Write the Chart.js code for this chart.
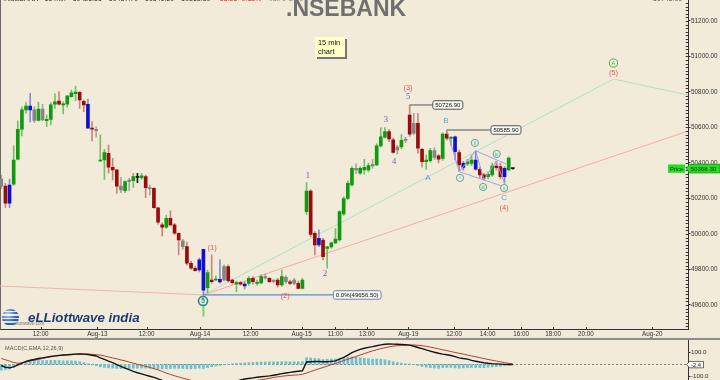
<!DOCTYPE html>
<html><head><meta charset="utf-8">
<script src="https://cdn.jsdelivr.net/npm/chart.js"></script>
<style>
html,body{margin:0;padding:0;background:#f3ebd9;}
#wrap{position:relative;width:720px;height:380px;overflow:hidden;background:#f3ebd9;font-family:"Liberation Sans",Arial,sans-serif;}
#main{position:absolute;left:0;top:0;}
#sep{position:absolute;left:0;top:338px;width:720px;height:2px;background:#8c8c8c;}
#macd{position:absolute;left:0;top:340px;}
#hdr{position:absolute;left:3px;top:-5px;font-size:7px;color:#333;white-space:nowrap;}
#hdr span{margin-right:7px;}
#hdr2{position:absolute;left:653px;top:-5px;font-size:7px;color:#555;}
#title{position:absolute;left:286px;top:-2.8px;font-weight:bold;font-size:23px;line-height:23px;color:#707070;}
#note{position:absolute;left:315px;top:37px;width:27px;height:18px;padding:2px 0 0 3px;background:#ffffc6;box-shadow:2px 2px 0 #777;font-size:7.4px;line-height:8.6px;color:#111;}
#globe{position:absolute;left:2px;top:309px;width:17px;height:17px;border-radius:50%;
 background:radial-gradient(circle at 35% 30%,rgba(255,255,255,0.7),rgba(255,255,255,0) 55%),repeating-linear-gradient(180deg,#2b5ea8 0 2px,#dbe6f3 2px 3.4px);}
#logo{position:absolute;left:28px;top:310px;font-style:italic;font-weight:bold;font-size:13.3px;color:#1d3c78;white-space:nowrap;}
#logosub{position:absolute;left:13px;top:321px;font-size:4.6px;color:#777;}
</style></head>
<body><div id="wrap">
<canvas id="main" width="720" height="338"></canvas>
<div id="sep"></div>
<canvas id="macd" width="720" height="40"></canvas>
<div id="hdr"><span>.NSEBANK - 15 min</span><span>50426.55</span><span>50437.70</span><span>50341.20</span><span>50368.30</span><span style="color:#e02020">-58.25 -0.12%</span><span style="color:#777">Vol: 0 OI: 0</span></div>
<div id="hdr2">50748.00</div>
<div id="title">.NSEBANK</div>
<div id="note">15 min<br>chart</div>
<div id="globe"></div>
<div id="logosub">elliottwave.com</div>
<div id="logo">eLLiottwave india</div>
</div>
<script>
// ---------- DATA ----------
const firstSlot = 1; // 15-min slot index of first candle (Aug-12 09:30)
const openP = [
 50310,50270,50173,50280,50421,50591,50699,50721,50699,50640,50704,50638,50646,50731,50749,50727,50731,50774,50791,50798,50747,50731,50596,50590,
 50411,50417,50455,50376,50361,50270,50244,50295,50300,50319,50317,50323,50261,50257,50148,50051,50038,50088,50051,50004,49961,49929,49835,49807,49797,
 49914,49697,49741,49741,49744,49741,49816,49741,49718,49726,49718,49722,49750,49722,49725,49760,49750,49735,49741,49713,49756,49731,49722,49722,49694,
 50126,50242,50004,49938,49966,49918,49927,49950,49966,50113,50200,50276,50370,50342,50361,50361,50384,50389,50496,50545,50577,50530,50473,50490,50527,
 50670,50568,50623,50477,50408,50413,50470,50440,50426,50563,50538,50548,50458,50398,50395,50398,50417,50365,50333,50323,50333,50383,50380,50323,50361,50370];
const highP = [
 50330,50286,50308,50496,50638,50717,50740,50793,50717,50742,50730,50670,50740,50789,50802,50745,50778,50811,50834,50802,50755,50760,50633,50604,
 50558,50477,50501,50426,50361,50319,50300,50314,50342,50342,50342,50332,50276,50260,50150,50062,50107,50130,50060,50007,49972,49955,49846,49818,49864,
 49914,49797,49882,49764,49854,49826,49826,49746,49735,49732,49730,49760,49760,49740,49770,49776,49755,49745,49750,49797,49765,49740,49750,49735,49750,
 50289,50250,50013,50023,49976,49930,49955,50030,50130,50210,50300,50380,50395,50380,50420,50400,50420,50510,50600,50600,50590,50540,50500,50560,50545,
 50726.9,50680,50680,50483,50445,50483,50485,50447,50570,50585.9,50550,50552,50473,50410,50420,50445,50469,50376,50342,50350,50400,50411,50400,50380,50435,50372];
const lowP = [
 50255,50150,50150,50275,50418,50552,50680,50631,50627,50635,50638,50604,50614,50708,50727,50676,50714,50770,50751,50708,50689,50596,50524,50545,
 50407,50308,50342,50304,50229,50233,50233,50244,50263,50289,50308,50205,50220,50146,50055,49989,50032,50045,49998,49882,49915,49824,49800,49790,49786,
 49656.5,49670,49723,49735,49723,49735,49730,49718,49675,49712,49690,49710,49717,49712,49718,49746,49727,49725,49700,49705,49722,49715,49715,49690,49690,
 50110,49985,49882,49929,49854,49807,49920,49945,49960,50105,50195,50270,50340,50335,50335,50350,50370,50385,50490,50540,50520,50455,50450,50480,50515,
 50550,50560,50455,50376,50365,50405,50420,50400,50415,50530,50500,50417,50351,50360,50385,50385,50360,50315,50304,50310,50325,50361,50310,50286,50355,50365];
const closeP = [
 50270,50173,50276,50417,50590,50699,50721,50699,50640,50704,50642,50646,50727,50745,50731,50731,50778,50796,50800,50755,50727,50596,50590,50582,
 50417,50458,50376,50361,50270,50248,50295,50304,50323,50320,50327,50261,50255,50148,50067,50038,50088,50051,50004,49966,49929,49835,49807,49793,49854,
 49684,49782,49732,49746,49730,49816,49737,49726,49726,49717,49707,49750,49731,49725,49760,49752,49731,49733,49713,49760,49731,49722,49741,49694,49741,
 50242,49998,49938,49976,49872,49927,49950,49972,50126,50200,50286,50370,50361,50370,50376,50386,50392,50497,50548,50577,50535,50460,50490,50527,50532,
 50563,50624,50483,50408,50417,50470,50432,50421,50563,50540,50545,50464,50389,50375,50407,50417,50365,50333,50315,50336,50383,50374,50323,50370,50427,50368.3];
const candleKind = ('srbggggbsgsgggrggggrrbrs' + 'ggrrrsgsgkgrsrrrgrrrsrrrb' + 'bgrgbsrrgrbgrggsrsrgsrsrg' +
                    'grrbrgggggggsgggsgggrrsgs' + 'rsrrggsrgrgbrbggbrrggrrbgk').split('');

const macdLine = [
 -10,-25,-30,-22,-5,10,25,35,42,50, 56,62,68,73,77,80,82,85,88,89, 88,84,78,72,55,42,28,15,-2,-18,
 -32,-46,-60,-72,-82,-92,-102,-112,-125,-137, -147,-155,-162,-170,-176,-184,-190,-196,-198,-210,
 -206,-198,-188,-178,-172,-164,-155,-145,-134,-126, -121,-116,-111,-107,-103,-99,-93,-87,-80,-74,
 -69,-64,-59,-55,20,22,24,25,22,22, 26,30,45,60,80,100,115,128,138,146, 152,160,167,173,175,174,172,170,168,165,
 155,145,135,124,114,104,95,88,82,76, 66,56,50,45,34,27,20,14,9,6, 4,2,0,-1.5,-2.4];
const signalLine = [
 50,40,28,15,10,12,20,28,35,42, 50,58,64,70,74,78,82,85,87,89, 89,88,86,83,80,72,64,55,47,38,
 30,20,10,0,-8,-17,-27,-37,-48,-60, -75,-87,-98,-108,-118,-128,-137,-146,-154,-162,
 -168,-172,-175,-176,-176,-175,-173,-170,-165,-160, -153,-146,-138,-132,-126,-120,-112,-107,-102,-98,
 -95,-92,-90,-85,-75,-62,-50,-38,-27,-15, -3,8,20,32,44,56,67,80,92,104, 115,125,135,143,150,156,160,163,165,166,
 166,164,160,155,148,140,133,125,118,110, 102,95,88,80,72,65,57,50,42,35, 28,22,15,9,4];
const macdHist = [
 -50,-45,-40,-25,-10,5,15,25,30,32, 33,32,34,35,33,30,30,30,28,22, 15,5,-5,-12,-22,-26,-30,-32,-35,-36,
 -36,-35,-34,-33,-32,-32,-33,-35,-37,-38, -38,-36,-35,-35,-36,-38,-38,-36,-33,-36,
 -28,-20,-14,-9,-4,0,5,8,10,12, 14,16,18,19,20,21,21,22,23,23,
 22,22,22,24,58,55,50,48,42,44, 45,46,52,58,62,64,60,56,52,48, 45,46,44,40,32,22,15,10,6,3,
 -2,-10,-18,-24,-28,-32,-34,-28,-26,-26, -30,-33,-31,-29,-27,-28,-29,-29,-26,-22, -19,-16,-12,-8,-4];

const xTickPos = [10.55,24.27,36.25,49.17,61.46,73.82,82.0,89.6,99.67,110.8,118.9,127.0,134.8,142.7,158.8];
const xTickLabels = ['12:00','Aug-13','12:00','Aug-14','12:00','Aug-15','11:00','13:00','Aug-19','12:00','14:00','16:00','18:00','20:00','Aug-20'];
const yTickValues = [49600,49800,50000,50200,50400,50600,50800,51000,51200];
const macdTickValues = [-100,100];

// overlays in (slot, price)
const lineLeftPink = [[0.685,49707],[50,49656.5]];
const lineTrendPink = [[50,49656.5],[167.47,50580]];
const lineTrendGreen = [[50,49656.5],[149.4,50873],[167.47,50783]];
const levelZero = [[50,49656.5],[81.5,49656.5]];
const levelHigh3 = [[100,50726.9],[105.6,50726.9]];
const levelHighB = [[109,50585.9],[119.7,50585.9]];
const wavePath = [[109,50585.9],[112,50351],[116,50469],[118,50304],[121,50411],[123,50286]];
const chanLower = [[112,50351],[123.3,50263]];
const chanUpper = [[116,50469],[123.4,50394]];
const markerLow = [[50,49600],[50,49535]];

const waveLabels = [
 ['(1)',52.1,49921,'red'],['(2)',69.8,49651,'red'],['(3)',99.6,50823,'red'],['(4)',122.9,50147,'red'],['(5)',149.4,50907,'red'],
 ['1',75.3,50327,'purple'],['2',79.5,49775,'purple'],['3',94.2,50642,'purple'],['4',96.2,50406,'purple'],['5',99.6,50772,'purple'],
 ['A',104.4,50316,'cyan'],['B',108.8,50637,'cyan'],['C',122.9,50204,'cyan'],
 ['i',112.2,50316,'ring'],['ii',115.8,50513,'ring'],['iii',117.8,50265,'ring'],['iv',121.1,50451,'ring'],['v',122.9,50259,'ring'],
 ['5',49.9,49623,'ringBig'],['A',149.4,50963,'ringGreen']];

// ---------- RENDER ----------
Chart.defaults.font.family = "'Liberation Sans', Arial, sans-serif";
const xMin = 0.685, xMax = 167.47;
const yMin = 49461.9, yMax = 51318.3;
const BG = '#f3ebd9';
const bodyCol = {g:'#109a10', r:'#9a0b0b', b:'#1010d2', s:'#858585', k:'#1a1a1a'};
const wickCol = {g:'rgba(16,154,16,0.55)', r:'rgba(154,11,11,0.45)', b:'rgba(16,16,210,0.45)', s:'rgba(110,110,110,0.55)', k:'#1a1a1a'};
const pts = a => a.map(([x,y]) => ({x, y}));
const slot = k => firstSlot + k;

function rr(ctx, x, y, w, h, r) {
  ctx.beginPath();
  ctx.moveTo(x + r, y); ctx.lineTo(x + w - r, y); ctx.arcTo(x + w, y, x + w, y + r, r);
  ctx.lineTo(x + w, y + h - r); ctx.arcTo(x + w, y + h, x + w - r, y + h, r);
  ctx.lineTo(x + r, y + h); ctx.arcTo(x, y + h, x, y + h - r, r);
  ctx.lineTo(x, y + r); ctx.arcTo(x, y, x + r, y, r); ctx.closePath();
}
function lineDs(data, color, width, order) {
  return {type:'line', data: pts(data), borderColor: color, borderWidth: width, pointRadius: 0, tension: 0, fill: false, order};
}

const priceBoxes = [
  {i: levelHigh3[1][0], p: levelHigh3[0][1], text: levelHigh3[0][1].toFixed(2), border:'#555'},
  {i: levelHighB[1][0], p: levelHighB[0][1], text: levelHighB[0][1].toFixed(2), border:'#555'},
  {i: levelZero[1][0], p: levelZero[0][1], text: '0.0%(' + levelZero[0][1].toFixed(2) + ')', border:'#6f86bd'}
];

const mainDecor = {
  id: 'mainDecor',
  beforeDatasetsDraw(chart) {
    const {ctx, chartArea: a} = chart;
    ctx.save();
    ctx.strokeStyle = '#6a6a6a'; ctx.lineWidth = 1;
    ctx.beginPath(); ctx.moveTo(0.5, 0); ctx.lineTo(0.5, a.bottom); ctx.stroke();
    ctx.restore();
  },
  afterDatasetsDraw(chart) {
    const {ctx, scales: {x, y}} = chart;
    ctx.save();
    priceBoxes.forEach(b => {
      const bx = x.getPixelForValue(b.i), by = y.getPixelForValue(b.p);
      ctx.font = '6px "Liberation Sans"';
      const w = ctx.measureText(b.text).width + 5, h = 8.5;
      rr(ctx, bx, by - h / 2, w, h, 2);
      ctx.fillStyle = '#f7f6f1'; ctx.fill();
      ctx.strokeStyle = b.border; ctx.lineWidth = 1; ctx.stroke();
      ctx.fillStyle = '#111'; ctx.textAlign = 'left'; ctx.textBaseline = 'middle';
      ctx.fillText(b.text, bx + 2.5, by + 0.5);
    });
    waveLabels.forEach(([t, i, p, kind]) => {
      const lx = x.getPixelForValue(i), ly = y.getPixelForValue(p);
      ctx.textAlign = 'center'; ctx.textBaseline = 'middle';
      if (kind === 'red') { ctx.font = '7.5px "Liberation Sans"'; ctx.fillStyle = '#e85a55'; ctx.fillText(t, lx, ly); }
      else if (kind === 'purple') { ctx.font = '8.5px "Liberation Serif"'; ctx.fillStyle = '#7a55a8'; ctx.fillText(t, lx, ly); }
      else if (kind === 'cyan') { ctx.font = '8px "Liberation Sans"'; ctx.fillStyle = '#4ea6e8'; ctx.fillText(t, lx, ly); }
      else {
        let r = 3.6, col = '#3aa596', lw = 0.9, fs = 4.6;
        if (kind === 'ringBig') { r = 4.5; col = '#1d8f8f'; lw = 1.6; fs = 6.5; }
        if (kind === 'ringGreen') { r = 4.1; col = '#47b347'; lw = 1; fs = 5.6; }
        ctx.beginPath(); ctx.arc(lx, ly, r, 0, Math.PI * 2);
        ctx.fillStyle = BG; ctx.fill();
        ctx.lineWidth = lw; ctx.strokeStyle = col; ctx.stroke();
        ctx.font = (kind === 'ringBig' ? 'bold ' : '') + fs + 'px "Liberation Sans"';
        ctx.fillStyle = col; ctx.fillText(t, lx, ly + 0.3);
      }
    });
    ctx.restore();
  },
  afterDraw(chart) {
    const {ctx, chartArea: a, scales: {x, y}} = chart;
    ctx.save();
    ctx.strokeStyle = '#333'; ctx.lineWidth = 1;
    ctx.beginPath();
    x.ticks.forEach(t => { const px = Math.round(x.getPixelForValue(t.value)) + 0.5; ctx.moveTo(px, a.bottom - 2.5); ctx.lineTo(px, a.bottom); });
    for (let v = 49480; v <= 51300; v += 20) { const py = Math.round(y.getPixelForValue(v)) + 0.5; ctx.moveTo(a.right - 2.3, py); ctx.lineTo(a.right, py); }
    ctx.stroke();
    // last price marker
    const last = closeP[closeP.length - 1];
    const py = y.getPixelForValue(last);
    ctx.fillStyle = '#22e022';
    ctx.fillRect(a.right - 20, py - 4.2, 17, 8.4);
    ctx.beginPath();
    ctx.moveTo(a.right - 1.5, py); ctx.lineTo(a.right + 1.5, py - 4.3); ctx.lineTo(720, py - 4.3);
    ctx.lineTo(720, py + 4.3); ctx.lineTo(a.right + 1.5, py + 4.3); ctx.closePath();
    ctx.fill(); ctx.strokeStyle = '#119911'; ctx.lineWidth = 0.8; ctx.stroke();
    ctx.fillStyle = '#0a2a0a'; ctx.textBaseline = 'middle'; ctx.textAlign = 'center';
    ctx.font = '5.8px "Liberation Sans"'; ctx.fillText('Price', a.right - 11.5, py + 0.3);
    ctx.textAlign = 'left'; ctx.font = '6.2px "Liberation Sans"'; ctx.fillText(last.toFixed(2), a.right + 2.5, py + 0.3);
    ctx.restore();
  }
};

new Chart(document.getElementById('main'), {
  type: 'bar',
  data: { datasets: [
    lineDs(lineLeftPink, '#e9b7ae', 1, 20),
    lineDs(lineTrendPink, '#f2aca2', 1, 20),
    lineDs(lineTrendGreen, '#b4dcc6', 1, 20),
    {type:'bar', grouped:false, order:8, barThickness:1, minBarLength:1,
     data: lowP.map((l, k) => ({x: slot(k), y: [l, highP[k]]})),
     backgroundColor: c => wickCol[candleKind[c.dataIndex]]},
    {type:'bar', grouped:false, order:6, barThickness:3, minBarLength:1,
     data: openP.map((o, k) => ({x: slot(k), y: [Math.min(o, closeP[k]), Math.max(o, closeP[k])]})),
     backgroundColor: c => bodyCol[candleKind[c.dataIndex]]},
    lineDs(levelZero, '#5d8ad6', 1.2, 3),
    lineDs(levelHigh3, '#555', 1, 3),
    lineDs(levelHighB, '#555', 1, 3),
    lineDs(wavePath, '#9a9ae2', 1, 2),
    lineDs(chanLower, '#a3a3e6', 1, 2),
    lineDs(chanUpper, '#a3a3e6', 1, 2),
    lineDs(markerLow, '#7fd07f', 2, 2)
  ]},
  options: {
    responsive: false, animation: false, events: [],
    layout: {padding: 0},
    plugins: {legend: {display: false}, tooltip: {enabled: false}},
    scales: {
      x: {type: 'linear', min: xMin, max: xMax, offset: false,
        afterBuildTicks: s => { s.ticks = xTickPos.map(v => ({value: v})); },
        ticks: {autoSkip: false, maxRotation: 0, minRotation: 0, padding: 1, color: '#333', font: {size: 6.3}, callback: (v, i) => xTickLabels[i]},
        grid: {drawOnChartArea: false, drawTicks: false},
        border: {display: true, color: '#333', width: 1},
        afterFit: s => { s.height = 8.5; s.paddingLeft = 0; s.paddingRight = 0; }},
      y: {position: 'right', min: yMin, max: yMax, beginAtZero: false,
        afterBuildTicks: s => { s.ticks = yTickValues.map(v => ({value: v})); },
        ticks: {autoSkip: false, padding: 0.5, color: '#333', font: {size: 6.4}, callback: v => Number(v).toFixed(2)},
        grid: {drawOnChartArea: false, drawTicks: true, tickLength: 2.5, color: '#333'},
        border: {display: true, color: '#333', width: 1},
        afterFit: s => { s.width = 32; s.paddingTop = 0; s.paddingBottom = 0; }}
    }
  },
  plugins: [mainDecor]
});

const macdDecor = {
  id: 'macdDecor',
  beforeDatasetsDraw(chart) {
    const {ctx, chartArea: a, scales: {y}} = chart;
    const zy = Math.round(y.getPixelForValue(0)) + 0.5;
    ctx.save(); ctx.setLineDash([2, 2]); ctx.strokeStyle = '#808080'; ctx.lineWidth = 1;
    ctx.beginPath(); ctx.moveTo(a.left, zy); ctx.lineTo(a.right, zy); ctx.stroke(); ctx.restore();
  },
  afterDraw(chart) {
    const {ctx, chartArea: a, scales: {y}} = chart;
    ctx.save();
    ctx.font = '5.6px "Liberation Sans"'; ctx.fillStyle = '#555'; ctx.textBaseline = 'middle'; ctx.textAlign = 'left';
    ctx.fillText('MACD(C,EMA,12,26,9)', 5, 8.7);
    const last = macdLine[macdLine.length - 1];
    const py = y.getPixelForValue(last);
    ctx.beginPath();
    ctx.moveTo(a.right - 1.5, py); ctx.lineTo(a.right + 1.5, py - 3.2); ctx.lineTo(a.right + 15.5, py - 3.2);
    ctx.lineTo(a.right + 15.5, py + 3.2); ctx.lineTo(a.right + 1.5, py + 3.2); ctx.closePath();
    ctx.fillStyle = '#ffffff'; ctx.fill(); ctx.strokeStyle = '#444'; ctx.lineWidth = 0.8; ctx.stroke();
    ctx.fillStyle = '#111'; ctx.font = '5.8px "Liberation Sans"';
    ctx.fillText(last.toFixed(1), a.right + 3, py + 0.3);
    ctx.restore();
  }
};

new Chart(document.getElementById('macd'), {
  type: 'bar',
  data: { datasets: [
    {type:'line', order:1, data: macdLine.map((v, k) => ({x: slot(k), y: v})), borderColor:'#141414', borderWidth:1.4, pointRadius:0, tension:0},
    {type:'line', order:2, data: signalLine.map((v, k) => ({x: slot(k), y: v})), borderColor:'#b83a32', borderWidth:1, pointRadius:0, tension:0},
    {type:'bar', order:3, grouped:false, barThickness:2, data: macdHist.map((v, k) => ({x: slot(k), y: v})), backgroundColor:'#6cc1d1'}
  ]},
  options: {
    responsive: false, animation: false, events: [],
    layout: {padding: 0},
    plugins: {legend: {display: false}, tooltip: {enabled: false}},
    scales: {
      x: {type: 'linear', min: xMin, max: xMax, offset: false, display: false},
      y: {position: 'right', min: -134.3, max: 209, beginAtZero: false,
        afterBuildTicks: s => { s.ticks = macdTickValues.map(v => ({value: v})); },
        ticks: {autoSkip: false, padding: 0.5, color: '#333', font: {size: 6.2}, callback: v => Number(v).toFixed(1)},
        grid: {drawOnChartArea: false, drawTicks: true, tickLength: 2.5, color: '#333'},
        border: {display: true, color: '#333', width: 1},
        afterFit: s => { s.width = 32; s.paddingTop = 0; s.paddingBottom = 0; }}
    }
  },
  plugins: [macdDecor]
});
</script>
</body></html>
